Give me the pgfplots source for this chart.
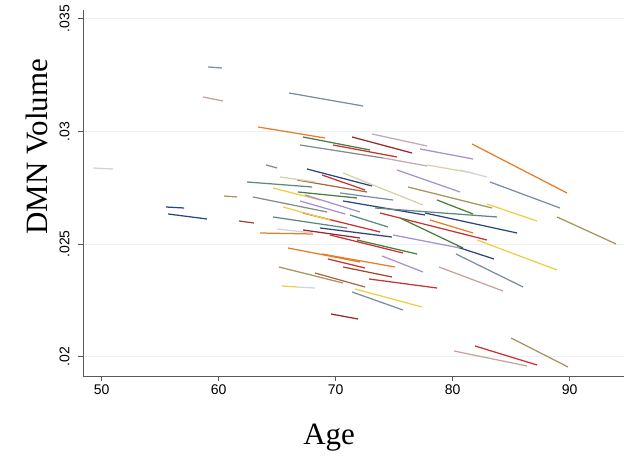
\documentclass[border=0pt]{standalone}
\usepackage{pgfplots}
\pgfplotsset{compat=1.18}
\usepackage{fontspec}
\setmainfont{Liberation Serif}
\newfontfamily\ticksans{Liberation Sans}
\definecolor{cnavy}{RGB}{45,70,125}
\definecolor{cred}{RGB}{200,50,50}
\definecolor{cdarkred}{RGB}{150,40,45}
\definecolor{cgreen}{RGB}{75,125,60}
\definecolor{corange}{RGB}{230,125,40}
\definecolor{cslate}{RGB}{125,140,165}
\definecolor{cteal}{RGB}{95,135,130}
\definecolor{clav}{RGB}{165,145,205}
\definecolor{cyellow}{RGB}{240,205,70}
\definecolor{ckhaki}{RGB}{165,150,95}
\definecolor{cpalekhaki}{RGB}{215,210,165}
\definecolor{crose}{RGB}{200,160,160}
\definecolor{crosegray}{RGB}{195,170,175}
\definecolor{cbrown}{RGB}{165,105,65}
\definecolor{cpalegray}{RGB}{210,210,215}
\definecolor{cgray}{RGB}{130,140,140}
\definecolor{cbrownred}{RGB}{160,70,50}
\definecolor{cpaleblue}{RGB}{200,215,230}
\definecolor{caxis}{RGB}{90,90,90}
\definecolor{cgrid}{RGB}{236,241,243}
\begin{document}
\begin{tikzpicture}
\path[use as bounding box] (-83pt,-84pt) rectangle (541pt,376pt);
\begin{axis}[
  width=541pt, height=366pt, scale only axis,
  xmin=48.40, xmax=94.64, ymin=0.019143, ymax=0.035382,
  enlargelimits=false,
  scaled y ticks=false, scaled x ticks=false,
  axis x line*=bottom, axis y line*=left,
  axis line style={caxis, line width=0.9pt},
  xtick={50,60,70,80,90},
  xticklabels={50,60,70,80,90},
  ytick={0.02,0.025,0.03,0.035},
  yticklabels={.02,.025,.03,.035},
  tick align=outside, major tick length=5pt,
  tick style={caxis, line width=0.9pt},
  ticklabel style={font=\ticksans\fontsize{14}{14}\selectfont},
  yticklabel style={xshift=-5pt, rotate=90, anchor=south},
  ymajorgrids, grid style={cgrid, line width=0.9pt},
  xlabel={Age}, ylabel={DMN Volume},
  label style={font=\fontsize{31}{31}\selectfont},
  xlabel style={at={(axis description cs:0.455,-0.167)}, anchor=center},
  ylabel style={at={(axis description cs:-0.085,0.626)}, anchor=center},
  every axis plot/.append style={line width=1.25pt, mark=none},
  clip=true,
]
\addplot[cslate] coordinates {(59.09,0.032853) (60.28,0.032809)};
\addplot[crose] coordinates {(58.66,0.031522) (60.37,0.031345)};
\addplot[cslate] coordinates {(66.01,0.031700) (72.34,0.031123)};
\addplot[cpalegray] coordinates {(49.26,0.028372) (50.97,0.028327)};
\addplot[corange] coordinates {(63.36,0.030191) (69.09,0.029703)};
\addplot[cgreen] coordinates {(67.21,0.029747) (72.93,0.029170)};
\addplot[cgray] coordinates {(66.95,0.029392) (74.05,0.028816)};
\addplot[cred] coordinates {(69.77,0.029392) (75.24,0.028860)};
\addplot[cdarkred] coordinates {(71.40,0.029747) (76.52,0.029037)};
\addplot[crosegray] coordinates {(73.11,0.029880) (77.81,0.029348)};
\addplot[clav] coordinates {(77.21,0.029215) (81.74,0.028771)};
\addplot[corange] coordinates {(81.65,0.029437) (89.77,0.027263)};
\addplot[cslate] coordinates {(83.19,0.027751) (89.17,0.026597)};
\addplot[ckhaki] coordinates {(88.92,0.026198) (93.96,0.025000)};
\addplot[crosegray] coordinates {(74.05,0.028816) (77.81,0.028461)};
\addplot[cpalekhaki] coordinates {(77.81,0.028505) (81.74,0.028150)};
\addplot[cpalegray] coordinates {(80.63,0.028283) (82.93,0.027973)};
\addplot[cnavy] coordinates {(67.55,0.028327) (73.11,0.027573)};
\addplot[clav] coordinates {(75.24,0.028283) (80.63,0.027307)};
\addplot[cpalekhaki] coordinates {(70.63,0.028150) (77.46,0.026730)};
\addplot[ckhaki] coordinates {(76.18,0.027529) (83.36,0.026597)};
\addplot[cred] coordinates {(68.83,0.028061) (72.51,0.027396)};
\addplot[cbrown] coordinates {(66.70,0.027839) (72.68,0.027307)};
\addplot[cgreen] coordinates {(78.66,0.026952) (81.74,0.026331)};
\addplot[cyellow] coordinates {(82.93,0.026775) (87.21,0.026020)};
\addplot[cslate] coordinates {(70.37,0.027263) (74.90,0.026952)};
\addplot[cgreen] coordinates {(66.78,0.027307) (71.82,0.027041)};
\addplot[cnavy] coordinates {(70.63,0.026908) (77.64,0.026286)};
\addplot[cnavy] coordinates {(77.64,0.026375) (85.50,0.025488)};
\addplot[cteal] coordinates {(73.36,0.026597) (83.79,0.026198)};
\addplot[cred] coordinates {(73.79,0.026375) (82.93,0.025177)};
\addplot[corange] coordinates {(78.06,0.026065) (81.74,0.025488)};
\addplot[cgreen] coordinates {(75.50,0.026153) (80.88,0.024822)};
\addplot[cnavy] coordinates {(80.37,0.024867) (83.53,0.024334)};
\addplot[cyellow] coordinates {(82.08,0.025177) (88.92,0.023846)};
\addplot[cslate] coordinates {(80.28,0.024556) (86.01,0.023092)};
\addplot[crose] coordinates {(78.83,0.023979) (84.30,0.022914)};
\addplot[clav] coordinates {(74.90,0.025399) (80.63,0.024822)};
\addplot[cred] coordinates {(67.21,0.026375) (73.79,0.025532)};
\addplot[cred] coordinates {(69.52,0.025399) (75.75,0.024600)};
\addplot[cnavy] coordinates {(68.66,0.025710) (74.81,0.025310)};
\addplot[cteal] coordinates {(71.22,0.026286) (74.47,0.025754)};
\addplot[cgreen] coordinates {(71.82,0.025177) (76.95,0.024556)};
\addplot[clav] coordinates {(73.96,0.024467) (77.46,0.023757)};
\addplot[corange] coordinates {(68.83,0.024556) (75.07,0.023979)};
\addplot[cred] coordinates {(69.34,0.024334) (72.51,0.023935)};
\addplot[cbrownred] coordinates {(70.63,0.023979) (74.81,0.023536)};
\addplot[cred] coordinates {(72.85,0.023447) (78.66,0.023047)};
\addplot[cbrown] coordinates {(68.23,0.023713) (72.51,0.023092)};
\addplot[ckhaki] coordinates {(65.16,0.023979) (70.63,0.023269)};
\addplot[cyellow] coordinates {(71.65,0.023003) (77.38,0.022204)};
\addplot[cslate] coordinates {(71.40,0.022870) (75.75,0.022071)};
\addplot[cdarkred] coordinates {(69.60,0.021894) (71.91,0.021672)};
\addplot[crose] coordinates {(80.11,0.020252) (86.35,0.019587)};
\addplot[cred] coordinates {(81.91,0.020474) (87.21,0.019631)};
\addplot[ckhaki] coordinates {(84.99,0.020829) (89.86,0.019542)};
\addplot[cgray] coordinates {(64.05,0.028505) (64.99,0.028372)};
\addplot[cnavy] coordinates {(55.50,0.026641) (57.04,0.026597)};
\addplot[cnavy] coordinates {(55.67,0.026331) (59.00,0.026109)};
\addplot[ckhaki] coordinates {(60.46,0.027129) (61.57,0.027085)};
\addplot[cbrownred] coordinates {(61.74,0.026020) (63.02,0.025931)};
\addplot[cteal] coordinates {(62.42,0.027751) (67.98,0.027529)};
\addplot[cpalekhaki] coordinates {(65.24,0.027973) (68.23,0.027751)};
\addplot[cyellow] coordinates {(64.64,0.027484) (68.66,0.026952)};
\addplot[cgray] coordinates {(62.93,0.027085) (69.26,0.026420)};
\addplot[clav] coordinates {(67.38,0.027174) (72.08,0.026420)};
\addplot[clav] coordinates {(66.95,0.026908) (70.80,0.026331)};
\addplot[cyellow] coordinates {(65.50,0.026641) (69.52,0.026065)};
\addplot[cteal] coordinates {(64.64,0.026198) (70.97,0.025710)};
\addplot[corange] coordinates {(63.53,0.025488) (68.06,0.025443)};
\addplot[cpalegray] coordinates {(64.99,0.025665) (68.06,0.025488)};
\addplot[cdarkred] coordinates {(67.21,0.025621) (72.08,0.025266)};
\addplot[corange] coordinates {(65.93,0.024822) (72.08,0.024201)};
\addplot[cyellow] coordinates {(65.41,0.023136) (66.70,0.023092)};
\addplot[cpaleblue] coordinates {(66.70,0.023092) (68.23,0.023047)};
\end{axis}
\end{tikzpicture}
\end{document}
